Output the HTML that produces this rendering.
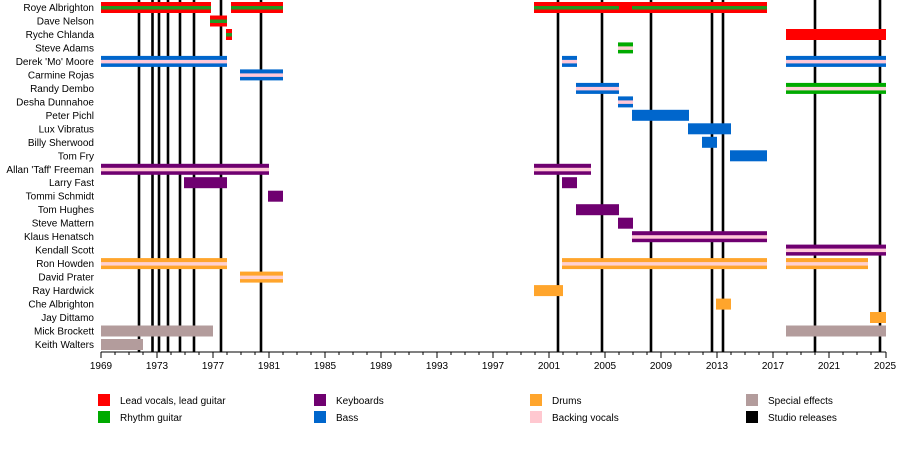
<!DOCTYPE html>
<html><head><meta charset="utf-8"><style>
body{margin:0;background:#fff;}
svg{display:block;font-family:"Liberation Sans",sans-serif;}
</style></head><body>
<svg width="900" height="450" xmlns="http://www.w3.org/2000/svg">
<g stroke="#000" stroke-width="2.6">
<line x1="139" y1="0" x2="139" y2="352"/><line x1="152.5" y1="0" x2="152.5" y2="352"/><line x1="159" y1="0" x2="159" y2="352"/><line x1="168" y1="0" x2="168" y2="352"/><line x1="180" y1="0" x2="180" y2="352"/><line x1="194" y1="0" x2="194" y2="352"/><line x1="221" y1="0" x2="221" y2="352"/><line x1="261" y1="0" x2="261" y2="352"/><line x1="558" y1="0" x2="558" y2="352"/><line x1="602" y1="0" x2="602" y2="352"/><line x1="651" y1="0" x2="651" y2="352"/><line x1="712" y1="0" x2="712" y2="352"/><line x1="723" y1="0" x2="723" y2="352"/><line x1="815" y1="0" x2="815" y2="352"/><line x1="880" y1="0" x2="880" y2="352"/>
</g>
<g>
<!-- Roye 2 -->
<rect x="101" y="2" width="110" height="11" fill="#f00"/><rect x="101" y="6" width="110" height="3.5" fill="#229922"/>
<rect x="231" y="2" width="52" height="11" fill="#f00"/><rect x="231" y="6" width="52" height="3.5" fill="#229922"/>
<rect x="534" y="2" width="233" height="11" fill="#f00"/><rect x="534" y="6" width="85" height="3.5" fill="#229922"/><rect x="632" y="6" width="135" height="3.5" fill="#229922"/>
<!-- Dave 15.5 -->
<rect x="210" y="15.5" width="17" height="11" fill="#f00"/><rect x="210" y="19.5" width="17" height="3.5" fill="#229922"/>
<!-- Ryche 29 -->
<rect x="226" y="29" width="6" height="11" fill="#f00"/><rect x="226" y="33" width="6" height="3.5" fill="#229922"/>
<rect x="786" y="29" width="100" height="11" fill="#f00"/>
<!-- Steve Adams 42.4 -->
<rect x="618" y="42.4" width="15" height="11" fill="#00aa00"/><rect x="618" y="46.4" width="15" height="3.5" fill="#ffd0d8"/>
<!-- Derek 55.9 -->
<rect x="101" y="55.9" width="126" height="11" fill="#0066cc"/><rect x="101" y="59.9" width="126" height="3.5" fill="#ffc8d8"/>
<rect x="562" y="55.9" width="15" height="11" fill="#0066cc"/><rect x="562" y="59.9" width="15" height="3.5" fill="#ffc8d8"/>
<rect x="786" y="55.9" width="100" height="11" fill="#0066cc"/><rect x="786" y="59.9" width="100" height="3.5" fill="#ffc8d8"/>
<!-- Carmine 69.4 -->
<rect x="240" y="69.4" width="43" height="11" fill="#0066cc"/><rect x="240" y="73.4" width="43" height="3.5" fill="#ffc8d8"/>
<!-- Randy 82.9 -->
<rect x="576" y="82.9" width="43" height="11" fill="#0066cc"/><rect x="576" y="86.9" width="43" height="3.5" fill="#ffc8d8"/>
<rect x="786" y="82.9" width="100" height="11" fill="#00aa00"/><rect x="786" y="86.9" width="100" height="3.5" fill="#ffd0d8"/>
<!-- Desha 96.4 -->
<rect x="618" y="96.4" width="15" height="11" fill="#0066cc"/><rect x="618" y="100.4" width="15" height="3.5" fill="#ffc8d8"/>
<!-- Peter 109.8, Lux 123.3, Billy 136.8, Tom Fry 150.3 -->
<rect x="632" y="109.8" width="57" height="11" fill="#0066cc"/>
<rect x="688" y="123.3" width="43" height="11" fill="#0066cc"/>
<rect x="702" y="136.8" width="15" height="11" fill="#0066cc"/>
<rect x="730" y="150.3" width="37" height="11" fill="#0066cc"/>
<!-- Allan 163.8 -->
<rect x="101" y="163.8" width="168" height="11" fill="#6f0070"/><rect x="101" y="167.8" width="168" height="3.5" fill="#ffc8d8"/>
<rect x="534" y="163.8" width="57" height="11" fill="#6f0070"/><rect x="534" y="167.8" width="57" height="3.5" fill="#ffc8d8"/>
<!-- Larry 177.2 -->
<rect x="184" y="177.2" width="43" height="11" fill="#6f0070"/>
<rect x="562" y="177.2" width="15" height="11" fill="#6f0070"/>
<!-- Tommi 190.7, Tom Hughes 204.2, Steve Mattern 217.7 -->
<rect x="268" y="190.7" width="15" height="11" fill="#6f0070"/>
<rect x="576" y="204.2" width="43" height="11" fill="#6f0070"/>
<rect x="618" y="217.7" width="15" height="11" fill="#6f0070"/>
<!-- Klaus 231.2 -->
<rect x="632" y="231.2" width="135" height="11" fill="#6f0070"/><rect x="632" y="235.2" width="135" height="3.5" fill="#ffc8d8"/>
<!-- Kendall 244.6 -->
<rect x="786" y="244.6" width="100" height="11" fill="#6f0070"/><rect x="786" y="248.6" width="100" height="3.5" fill="#ffc8d8"/>
<!-- Ron 258.1 -->
<rect x="101" y="258.1" width="126" height="11" fill="#ffa52c"/><rect x="101" y="262.1" width="126" height="3.5" fill="#ffd0d0"/>
<rect x="562" y="258.1" width="205" height="11" fill="#ffa52c"/><rect x="562" y="262.1" width="205" height="3.5" fill="#ffd0d0"/>
<rect x="786" y="258.1" width="82" height="11" fill="#ffa52c"/><rect x="786" y="262.1" width="82" height="3.5" fill="#ffd0d0"/>
<!-- David Prater 271.6 -->
<rect x="240" y="271.6" width="43" height="11" fill="#ffa52c"/><rect x="240" y="275.6" width="43" height="3.5" fill="#ffd0d0"/>
<!-- Ray 285.1, Che 298.6, Jay 312 -->
<rect x="534" y="285.1" width="29" height="11" fill="#ffa52c"/>
<rect x="716" y="298.6" width="15" height="11" fill="#ffa52c"/>
<rect x="870" y="312" width="16" height="11" fill="#ffa52c"/>
<!-- Mick 325.5, Keith 339 -->
<rect x="101" y="325.5" width="112" height="11" fill="#b39c9c"/>
<rect x="786" y="325.5" width="100" height="11" fill="#b39c9c"/>
<rect x="101" y="339" width="42" height="11" fill="#b39c9c"/>
</g>
<g font-size="10" text-anchor="end" fill="#000">
<text x="94" y="11">Roye Albrighton</text>
<text x="94" y="24.5">Dave Nelson</text>
<text x="94" y="38">Ryche Chlanda</text>
<text x="94" y="51.4">Steve Adams</text>
<text x="94" y="64.9">Derek 'Mo' Moore</text>
<text x="94" y="78.4">Carmine Rojas</text>
<text x="94" y="91.9">Randy Dembo</text>
<text x="94" y="105.4">Desha Dunnahoe</text>
<text x="94" y="118.8">Peter Pichl</text>
<text x="94" y="132.3">Lux Vibratus</text>
<text x="94" y="145.8">Billy Sherwood</text>
<text x="94" y="159.3">Tom Fry</text>
<text x="94" y="172.8">Allan 'Taff' Freeman</text>
<text x="94" y="186.2">Larry Fast</text>
<text x="94" y="199.7">Tommi Schmidt</text>
<text x="94" y="213.2">Tom Hughes</text>
<text x="94" y="226.7">Steve Mattern</text>
<text x="94" y="240.2">Klaus Henatsch</text>
<text x="94" y="253.6">Kendall Scott</text>
<text x="94" y="267.1">Ron Howden</text>
<text x="94" y="280.6">David Prater</text>
<text x="94" y="294.1">Ray Hardwick</text>
<text x="94" y="307.6">Che Albrighton</text>
<text x="94" y="321">Jay Dittamo</text>
<text x="94" y="334.5">Mick Brockett</text>
<text x="94" y="348">Keith Walters</text>
</g>
<line x1="101" y1="352" x2="886" y2="352" stroke="#000" stroke-width="1"/>
<path stroke="#000" stroke-width="1" fill="none" d="M101,352v6M115,352v3M129,352v3M143,352v3M157,352v6M171,352v3M185,352v3M199,352v3M213,352v6M227,352v3M241,352v3M255,352v3M269,352v6M283,352v3M297,352v3M311,352v3M325,352v6M339,352v3M353,352v3M367,352v3M381,352v6M395,352v3M409,352v3M423,352v3M437,352v6M451,352v3M465,352v3M479,352v3M493,352v6M507,352v3M521,352v3M535,352v3M549,352v6M563,352v3M577,352v3M591,352v3M605,352v6M619,352v3M633,352v3M647,352v3M661,352v6M675,352v3M689,352v3M703,352v3M717,352v6M731,352v3M745,352v3M759,352v3M773,352v6M787,352v3M801,352v3M815,352v3M829,352v6M843,352v3M857,352v3M871,352v3M886,352v6"/>
<g font-size="10" text-anchor="middle">
<text x="101" y="369">1969</text><text x="157" y="369">1973</text><text x="213" y="369">1977</text><text x="269" y="369">1981</text><text x="325" y="369">1985</text><text x="381" y="369">1989</text><text x="437" y="369">1993</text><text x="493" y="369">1997</text><text x="549" y="369">2001</text><text x="605" y="369">2005</text><text x="661" y="369">2009</text><text x="717" y="369">2013</text><text x="773" y="369">2017</text><text x="829" y="369">2021</text><text x="885" y="369">2025</text>
</g>
<g font-size="10">
<rect x="98" y="394" width="12" height="12" fill="#f00"/><text x="120" y="404">Lead vocals, lead guitar</text>
<rect x="98" y="411" width="12" height="12" fill="#00aa00"/><text x="120" y="421">Rhythm guitar</text>
<rect x="314" y="394" width="12" height="12" fill="#6f0070"/><text x="336" y="404">Keyboards</text>
<rect x="314" y="411" width="12" height="12" fill="#0066cc"/><text x="336" y="421">Bass</text>
<rect x="530" y="394" width="12" height="12" fill="#ffa52c"/><text x="552" y="404">Drums</text>
<rect x="530" y="411" width="12" height="12" fill="#ffc8d0"/><text x="552" y="421">Backing vocals</text>
<rect x="746" y="394" width="12" height="12" fill="#b39c9c"/><text x="768" y="404">Special effects</text>
<rect x="746" y="411" width="12" height="12" fill="#000"/><text x="768" y="421">Studio releases</text>
</g>
</svg>
</body></html>
